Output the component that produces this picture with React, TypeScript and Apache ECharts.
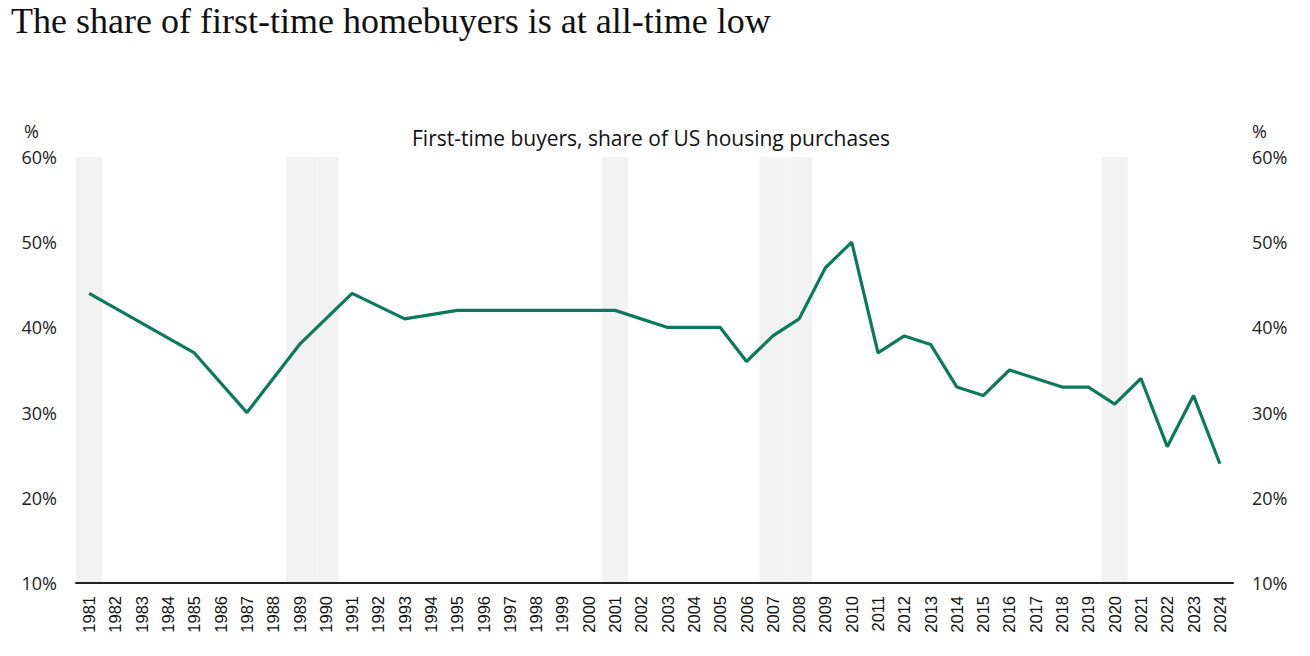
import React, { useEffect, useRef } from "react";
import * as echarts from "echarts";

const years: string[] = [
  "1981","1982","1983","1984","1985","1986","1987","1988","1989","1990",
  "1991","1992","1993","1994","1995","1996","1997","1998","1999","2000",
  "2001","2002","2003","2004","2005","2006","2007","2008","2009","2010",
  "2011","2012","2013","2014","2015","2016","2017","2018","2019","2020",
  "2021","2022","2023","2024",
];

// First-time buyers share (%); null = no survey that year
const firstTimeShare: (number | null)[] = [
  44, null, null, null, 37, null, 30, null, 38, null,
  44, null, 41, null, 42, null, null, null, null, null,
  42, null, 40, 40, 40, 36, 39, 41, 47, 50,
  37, 39, 38, 33, 32, 35, 34, 33, 33, 31,
  34, 26, 32, 24,
];

const recessionYears: string[] = ["1981", "1989", "1990", "2001", "2007", "2008", "2020"];

const title = "The share of first-time homebuyers is at all-time low";
const subtitle = "First-time buyers, share of US housing purchases";

export default function App() {
  const ref = useRef<HTMLDivElement>(null);
  useEffect(() => {
    document.body.style.margin = "0";
    if (!ref.current) return;
    const chart = echarts.init(ref.current, undefined, { renderer: "svg" });
    const sans = "'Open Sans', 'Noto Sans', sans-serif";
    const recessionData = years.map((y) => (recessionYears.includes(y) ? 60 : null));
    chart.setOption({
      animation: false,
      backgroundColor: "#ffffff",
      grid: { left: 76, right: 77, top: 157, bottom: 73, containLabel: false },
      graphic: [
        {
          type: "text",
          left: 11,
          top: 3,
          style: {
            text: title,
            font: "36px 'Liberation Serif', 'DejaVu Serif', serif",
            fill: "#111111",
          },
        },
        {
          type: "text",
          left: 412,
          top: 127,
          style: { text: subtitle, font: `21px ${sans}`, fill: "#111111" },
        },
        {
          type: "text",
          left: 24,
          top: 122,
          style: { text: "%", font: `18px ${sans}`, fill: "#222222" },
        },
        {
          type: "text",
          left: 1252,
          top: 122,
          style: { text: "%", font: `18px ${sans}`, fill: "#222222" },
        },
      ],
      xAxis: {
        type: "category",
        data: years,
        boundaryGap: true,
        z: 10,
        axisLine: { show: true, lineStyle: { color: "#222222", width: 2 } },
        axisTick: { show: false },
        axisLabel: {
          rotate: 90,
          interval: 0,
          margin: 13,
          fontFamily: "'Liberation Sans', Arial, sans-serif",
          fontSize: 16.5,
          color: "#111111",
        },
        splitLine: { show: false },
      },
      yAxis: [
        {
          type: "value",
          min: 10,
          max: 60,
          interval: 10,
          position: "left",
          axisLine: { show: false },
          axisTick: { show: false },
          splitLine: { show: false },
          axisLabel: {
            formatter: "{value}%",
            margin: 19,
            fontFamily: sans,
            fontSize: 18,
            color: "#222222",
          },
        },
        {
          type: "value",
          min: 10,
          max: 60,
          interval: 10,
          position: "right",
          axisLine: { show: false },
          axisTick: { show: false },
          splitLine: { show: false },
          axisLabel: {
            formatter: "{value}%",
            margin: 19,
            fontFamily: sans,
            fontSize: 18,
            color: "#222222",
          },
        },
      ],
      series: [
        {
          name: "Recession",
          type: "bar",
          data: recessionData,
          barWidth: "100%",
          barGap: "0%",
          clip: true,
          itemStyle: { color: "#f2f2f2", borderColor: "#f2f2f2", borderWidth: 0.6 },
          silent: true,
          z: 1,
        },
        {
          name: "First-time buyers",
          type: "line",
          data: firstTimeShare,
          connectNulls: true,
          showSymbol: false,
          symbol: "none",
          lineStyle: { color: "#0b7a5c", width: 3.2 },
          z: 3,
        },
      ],
    });
    return () => chart.dispose();
  }, []);
  return <div ref={ref} style={{ width: 1310, height: 656 }} />;
}
